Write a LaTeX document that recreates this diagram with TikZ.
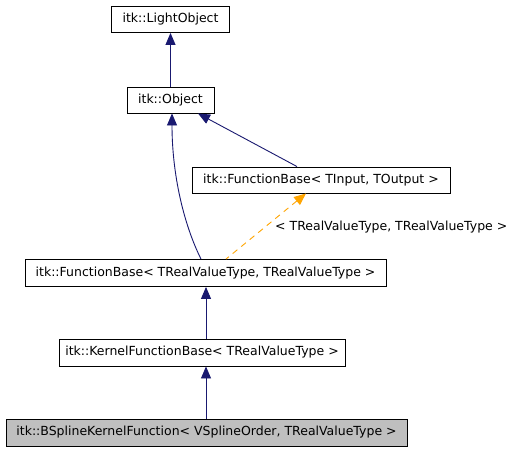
\documentclass[tikz,border=0pt]{standalone}
\usepackage{fontspec}
\setmainfont{DejaVu Sans}
\usetikzlibrary{arrows.meta}
\definecolor{edgeblue}{HTML}{191970}
\definecolor{edgeorange}{HTML}{FFA500}
\definecolor{nodegray}{HTML}{BFBFBF}
\tikzset{
  cls/.style={draw=black, line width=0.9pt, fill=white, inner sep=0pt, font=\fontsize{12.5}{14}\selectfont, text=black},
  inh/.style={draw=edgeblue, line width=0.9pt, {Triangle[length=12pt,width=10pt,fill=edgeblue]}-},
  tmpl/.style={draw=edgeorange, line width=0.9pt, dash pattern=on 6pt off 5pt, {Triangle[length=12pt,width=10pt,fill=edgeorange]}-},
  lbl/.style={font=\fontsize{12.5}{14}\selectfont, inner sep=0pt}
}
\begin{document}
\begin{tikzpicture}[x=1pt,y=-1pt]
\useasboundingbox[fill=white] (0,0) rectangle (511,453);
\node[cls, minimum width=118pt, minimum height=26pt] (light) at (170.5,19.5) {itk::LightObject};
\node[cls, minimum width=87pt, minimum height=26pt] (obj) at (170.5,100) {itk::Object};
\node[cls, minimum width=258pt, minimum height=26pt] (fbin) at (321,180) {itk::FunctionBase< TInput, TOutput >};
\node[cls, minimum width=361pt, minimum height=27pt] (fbreal) at (205.5,273) {itk::FunctionBase< TRealValueType, TRealValueType >};
\node[cls, minimum width=286pt, minimum height=27pt] (kern) at (202,352.5) {itk::KernelFunctionBase< TRealValueType >};
\node[cls, fill=nodegray, minimum width=401pt, minimum height=27pt] (bsp) at (206.5,432.5) {itk::BSplineKernelFunction< VSplineOrder, TRealValueType >};
\draw[inh] (light.south) -- (obj.north);
\draw[inh] (obj.south -| 172,0) .. controls (172,175) and (184,225) .. (fbreal.north -| 201,0);
\draw[inh] (obj.south -| 198,0) -- (fbin.north -| 297,0);
\draw[tmpl] (fbin.south -| 306,0) -- (fbreal.north -| 226,0);
\node[lbl, anchor=west] (tl) at (275,227) {< TRealValueType, TRealValueType >};
\draw[inh] (fbreal.south -| 206,0) -- (kern.north -| 206,0);
\draw[inh] (kern.south -| 206,0) -- (bsp.north -| 206,0);
\end{tikzpicture}
\end{document}
